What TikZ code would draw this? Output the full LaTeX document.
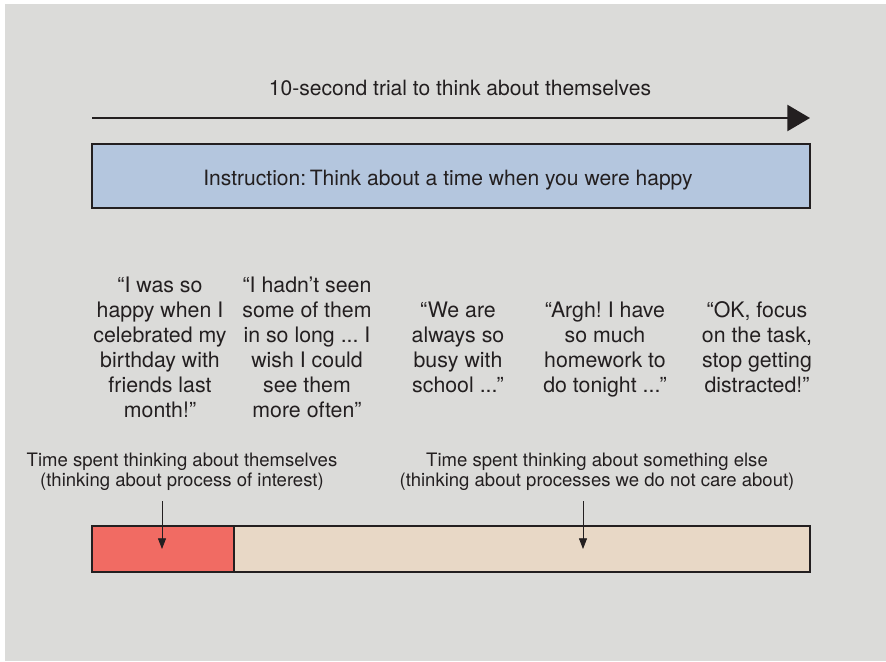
\documentclass[tikz,border=0pt]{standalone}
\usepackage{fontspec}
\setmainfont{TeX Gyre Heros}
\usetikzlibrary{arrows.meta,positioning}
\frenchspacing
\definecolor{bgc}{RGB}{219,219,217}
\definecolor{ic}{RGB}{180,198,222}
\definecolor{sc}{RGB}{241,107,99}
\definecolor{ec}{RGB}{232,216,198}
\definecolor{tc}{RGB}{35,31,32}
\tikzset{txt/.style={text=tc,align=center,inner sep=0pt,font=\fontsize{15.8}{18.75}\selectfont},
 quote/.style={txt,text depth=0pt,font=\fontsize{16}{18.75}\selectfont},
 lab/.style={txt,font=\fontsize{13.9}{15}\selectfont},
 bar/.style={draw=tc,line width=.8pt,minimum height=34.5pt,inner sep=0pt},
 instr/.style={bar,fill=ic,minimum width=538.5pt,minimum height=48pt},
 tarr/.style={-{Triangle[length=17pt,width=19.5pt]},line width=1.9pt,draw=tc},
 darr/.style={-{Triangle[length=8pt,width=6pt]},line width=.6pt,draw=tc}}
\begin{document}
\begin{tikzpicture}[x=0.75pt,y=-0.75pt]
\useasboundingbox (0,0) rectangle (886,661);
\fill[bgc] (5,4) rectangle (886,661);
% trial arrow
\node[txt] (title) at (460,88) {10-second trial to think about themselves};
\coordinate (ts) at (92,118);\coordinate (te) at (810,118);
\draw[tarr] (ts)--(te);
\node[instr] (instr) at (451,176) {};
\node[txt] at (448,180) {Instruction:\,Think about a time when you were happy};
% thoughts
\node[quote] (q1) at (160,347) {“I was so\\happy when I\\celebrated my\\birthday with\\friends last\\month!”};
\node[quote] (q2) at (307,347) {“I hadn’t seen\\some of them\\in so long ... I\\wish I could\\see them\\more often”};
\node[quote] (q3) at (458,347) {“We are\\always so\\busy with\\school ...”};
\node[quote] (q4) at (605,347) {“Argh! I have\\so much\\homework to\\do tonight ...”};
\node[quote] (q5) at (757,347) {“OK, focus\\on the task,\\stop getting\\distracted!”};
% time bar
\node[lab] (lself) at (182,472) {Time spent thinking about themselves\\(thinking about process of interest)};
\node[lab] (lelse) at (597,472) {Time spent thinking about something else\\(thinking about processes we do not care about)};
\node[bar,fill=sc,minimum width=106.5pt] (self) at (163,549) {};
\node[bar,fill=ec,minimum width=432pt] (else) at (522,549) {};
\coordinate (a1) at (162,501);\coordinate (a2) at (583,501);
\draw[darr] (a1)--(a1|-self.center);
\draw[darr] (a2)--(a2|-else.center);
\end{tikzpicture}
\end{document}
